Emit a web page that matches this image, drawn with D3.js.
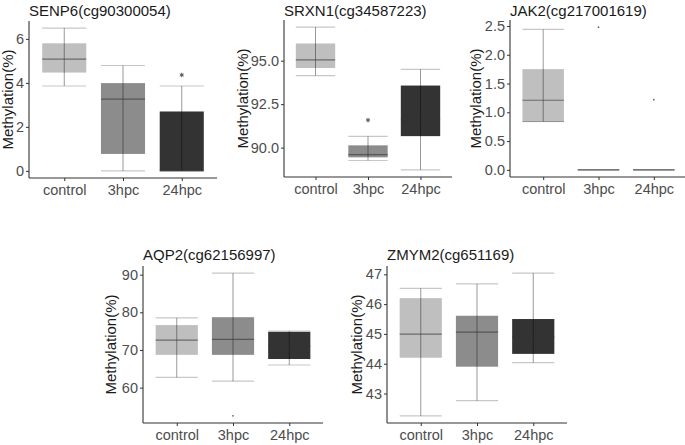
<!DOCTYPE html>
<html><head><meta charset="utf-8">
<script src="https://cdn.jsdelivr.net/npm/d3@7/dist/d3.min.js"></script>
<style>
html,body{margin:0;padding:0;background:#fff;}
svg{display:block;font-family:"Liberation Sans",Arial,sans-serif;}
</style></head>
<body>
<svg id="c" width="685" height="445"></svg>
<script>
// ---- data ----
const groups = ["control", "3hpc", "24hpc"];
const groupFill = ["#bfbfbf", "#8c8c8c", "#333333"];

// five-number summaries per group: [lower whisker, Q1, median, Q3, upper whisker]
const senp6 = [[3.86, 4.47, 5.08, 5.80, 6.49], [0.00, 0.77, 3.26, 3.99, 4.79], [0.00, 0.00, 0.00, 2.70, 3.86]];
const srxn1 = [[94.14, 94.58, 95.05, 95.99, 96.93], [89.26, 89.44, 89.60, 90.13, 90.65], [88.72, 90.66, 91.60, 93.57, 94.50]];
const jak2 = [[0.84, 0.83, 1.21, 1.75, 2.44], [0, 0, 0, 0, 0], [0, 0, 0, 0, 0]];
const aqp2 = [[62.7, 68.7, 72.6, 76.6, 78.5], [61.7, 68.7, 72.8, 78.7, 90.4], [66.0, 67.6, 71.0, 74.8, 75.0]];
const zmym2 = [[42.25, 44.20, 44.99, 46.20, 46.53], [42.76, 43.90, 45.06, 45.61, 46.68], [44.04, 44.33, 44.90, 45.50, 47.04]];

// outliers: [group index, value]
const senp6Out = [[2, 4.36]];
const srxn1Out = [[1, 91.58]];
const jak2Out = [[1, 2.48], [2, 1.22]];
const aqp2Out = [[1, 52.5]];
const zmym2Out = [];

const senp6Ticks = [0, 2, 4, 6];
const srxn1Ticks = [90.0, 92.5, 95.0];
const jak2Ticks = [0.0, 0.5, 1.0, 1.5, 2.0, 2.5];
const aqp2Ticks = [60, 70, 80, 90];
const zmym2Ticks = [43, 44, 45, 46, 47];

const titles = ["SENP6(cg90300054)", "SRXN1(cg34587223)", "JAK2(cg217001619)", "AQP2(cg62156997)", "ZMYM2(cg651169)"];
const yTitle = "Methylation(%)";

// ---- layout ----
const panels = [
  {stats: senp6, out: senp6Out, ticks: senp6Ticks, fmt: d3.format("d"), star: true,
   x0: 29, x1: 217, y0: 21, y1: 178, titleY: 16, yTitleX: 13},
  {stats: srxn1, out: srxn1Out, ticks: srxn1Ticks, fmt: d3.format(".1f"), star: true,
   x0: 284, x1: 452, y0: 20, y1: 177, titleY: 16, yTitleX: 248},
  {stats: jak2, out: jak2Out, ticks: jak2Ticks, fmt: d3.format(".1f"), star: false,
   x0: 510, x1: 687, y0: 20, y1: 177, titleY: 16, yTitleX: 481},
  {stats: aqp2, out: aqp2Out, ticks: aqp2Ticks, fmt: d3.format("d"), star: false,
   x0: 143, x1: 323, y0: 266, y1: 423, titleY: 260, yTitleX: 116},
  {stats: zmym2, out: zmym2Out, ticks: zmym2Ticks, fmt: d3.format("d"), star: false,
   x0: 387, x1: 567, y0: 266, y1: 423, titleY: 260, yTitleX: 362}
];

const svg = d3.select("#c");

panels.forEach((p, i) => {
  const g = svg.append("g");
  const allVals = p.stats.flat().concat(p.out.map(o => o[1]));
  const lo = d3.min(allVals), hi = d3.max(allVals);
  const pad = (hi - lo) * 0.05;
  const y = d3.scaleLinear().domain([lo - pad, hi + pad]).range([p.y1, p.y0]);
  const x = d3.scalePoint().domain(groups).range([p.x0, p.x1]).padding(0.6);
  const bw = x.step() * 0.75;

  p.stats.forEach((s, k) => {
    const cx = x(groups[k]);
    const [wl, q1, med, q3, wu] = s;
    g.append("rect")
      .attr("x", cx - bw / 2).attr("width", bw)
      .attr("y", y(q3)).attr("height", Math.max(0, y(q1) - y(q3)))
      .attr("fill", groupFill[k]);
    g.append("line")
      .attr("x1", cx).attr("x2", cx).attr("y1", y(wl)).attr("y2", y(wu))
      .attr("stroke", "#000").attr("stroke-opacity", 0.4).attr("stroke-width", 1);
    [wl, wu].forEach(v => {
      g.append("line")
        .attr("x1", cx - bw / 2).attr("x2", cx + bw / 2).attr("y1", y(v)).attr("y2", y(v))
        .attr("stroke", "#000").attr("stroke-opacity", 0.22).attr("stroke-width", 1.2);
    });
    g.append("line")
      .attr("x1", cx - bw / 2).attr("x2", cx + bw / 2).attr("y1", y(med)).attr("y2", y(med))
      .attr("stroke", "#333").attr("stroke-opacity", 0.6).attr("stroke-width", 1.2);
  });

  p.out.forEach(o => {
    const cx = x(groups[o[0]]), cy = y(o[1]);
    if (p.star) {
      g.append("path")
        .attr("d", d3.symbol().type(d3.symbolAsterisk).size(14)())
        .attr("transform", `translate(${cx},${cy})`)
        .attr("fill", "none").attr("stroke", "#555").attr("stroke-width", 1);
    } else {
      g.append("circle").attr("cx", cx).attr("cy", cy).attr("r", 0.9).attr("fill", "#666");
    }
  });

  const ya = g.append("g").attr("transform", `translate(${p.x0},0)`)
    .call(d3.axisLeft(y).tickValues(p.ticks).tickFormat(p.fmt).tickSize(3).tickPadding(2));
  const xa = g.append("g").attr("transform", `translate(0,${p.y1})`)
    .call(d3.axisBottom(x).tickSize(3).tickPadding(4));
  [ya, xa].forEach(a => {
    a.select(".domain").remove();
    a.selectAll(".tick line").attr("stroke", "#333");
    a.selectAll(".tick text").attr("fill", "#4d4d4d").style("font-size", "14.5px")
      .style("font-family", "'Liberation Sans', Arial, sans-serif");
  });
  g.append("line").attr("x1", p.x0).attr("x2", p.x0).attr("y1", p.y0).attr("y2", p.y1)
    .attr("stroke", "#333").attr("stroke-width", 1.1);
  g.append("line").attr("x1", p.x0).attr("x2", p.x1).attr("y1", p.y1).attr("y2", p.y1)
    .attr("stroke", "#333").attr("stroke-width", 1.1);

  g.append("text").attr("x", p.x0).attr("y", p.titleY)
    .attr("fill", "#1a1a1a").style("font-size", "15px").text(titles[i]);
  g.append("text")
    .attr("transform", `translate(${p.yTitleX},${(p.y0 + p.y1) / 2}) rotate(-90)`)
    .attr("text-anchor", "middle").attr("fill", "#1a1a1a").style("font-size", "15px")
    .text(yTitle);
});
</script>
</body></html>
